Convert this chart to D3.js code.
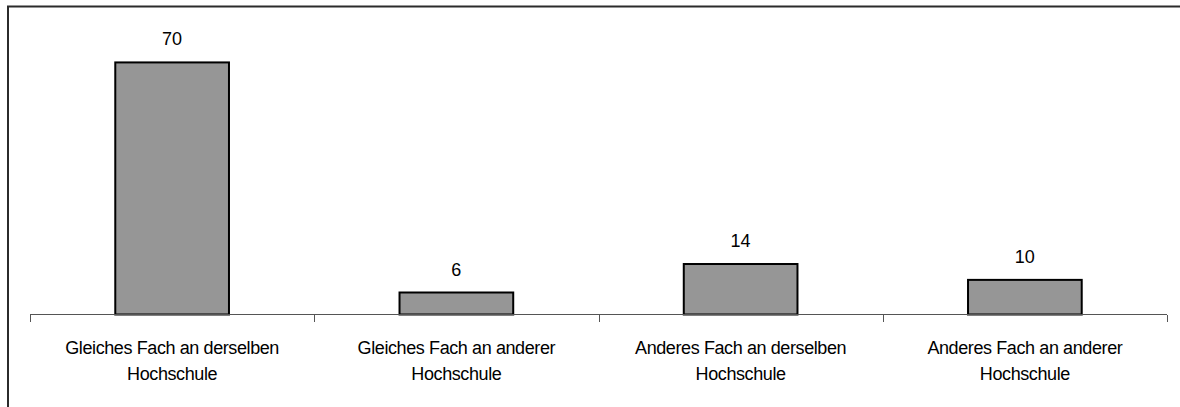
<!DOCTYPE html>
<html>
<head>
<meta charset="utf-8">
<style>
  body { margin: 0; background: #fff; }
  text { font-family: "Liberation Sans", Arial, sans-serif; fill: #000; }
  .frame { fill: none; stroke: #2b2b2b; stroke-width: 2; }
  .bar { fill: #969696; stroke: #000; stroke-width: 2; }
  .axis-line { stroke: #555; stroke-width: 1; shape-rendering: crispEdges; }
  .value { font-size: 18px; text-anchor: middle; }
  .cat { font-size: 18px; letter-spacing: -0.4px; text-anchor: middle; }
</style>
</head>
<body>
<svg width="1180" height="407"></svg>
<script src="https://cdnjs.cloudflare.com/ajax/libs/d3/7.8.5/d3.min.js"></script>
<script>
// categories, split into the two lines shown under the axis
var categories = ["Gleiches Fach an derselben Hochschule",
                  "Gleiches Fach an anderer Hochschule",
                  "Anderes Fach an derselben Hochschule",
                  "Anderes Fach an anderer Hochschule"];
var categoryLines = [["Gleiches Fach an derselben", "Hochschule"],
                     ["Gleiches Fach an anderer", "Hochschule"],
                     ["Anderes Fach an derselben", "Hochschule"],
                     ["Anderes Fach an anderer", "Hochschule"]];
// percentages (labels are rounded)
var values = [69.9, 6.1, 14.0, 9.6];
var yDomain = [0, 80];

var svg = d3.select("svg"),
    width = +svg.attr("width"),
    height = +svg.attr("height");

var plotLeft = 30, plotRight = 1167, baseline = 314.5, plotTop = 26;

// outer chart border (only top/left visible in the picture)
svg.append("rect")
    .attr("class", "frame")
    .attr("x", 8).attr("y", 6.5)
    .attr("width", 1200).attr("height", 500);

var x = d3.scaleBand()
    .domain(categories)
    .range([plotLeft, plotRight])
    .paddingInner(0.6)
    .paddingOuter(0.3);

var y = d3.scaleLinear()
    .domain(yDomain)
    .range([baseline, plotTop]);

var step = x.step();
var data = categories.map(function(c, i) {
  return {name: c, value: values[i], lines: categoryLines[i]};
});

// bars
svg.selectAll(".bar")
    .data(data)
  .enter().append("rect")
    .attr("class", "bar")
    .attr("x", function(d) { return x(d.name); })
    .attr("y", function(d) { return y(d.value); })
    .attr("width", x.bandwidth())
    .attr("height", function(d) { return y(0) - y(d.value); });

// category axis: line + ticks between categories
svg.append("line")
    .attr("class", "axis-line")
    .attr("x1", plotLeft).attr("x2", plotRight)
    .attr("y1", y(0)).attr("y2", y(0));

var boundaries = d3.range(categories.length + 1).map(function(i) { return plotLeft + i * step; });
svg.selectAll(".tick")
    .data(boundaries)
  .enter().append("line")
    .attr("class", "axis-line")
    .attr("x1", function(d) { return Math.round(d) + 0.5; })
    .attr("x2", function(d) { return Math.round(d) + 0.5; })
    .attr("y1", y(0)).attr("y2", y(0) + 7);

// value labels
var fmt = d3.format(".0f");
svg.selectAll(".value")
    .data(data)
  .enter().append("text")
    .attr("class", "value")
    .attr("x", function(d) { return x(d.name) + x.bandwidth() / 2; })
    .attr("y", function(d) { return y(d.value) - 17; })
    .text(function(d) { return fmt(d.value); });

// category labels
var cat = svg.selectAll(".cat")
    .data(data)
  .enter().append("text")
    .attr("class", "cat")
    .attr("x", function(d) { return x(d.name) + x.bandwidth() / 2; })
    .attr("y", y(0) + 39);

cat.selectAll("tspan")
    .data(function(d) { return d.lines; })
  .enter().append("tspan")
    .attr("x", function() { return d3.select(this.parentNode).attr("x"); })
    .attr("dy", function(d, i) { return i ? 26 : 0; })
    .text(function(d) { return d; });
</script>
</body>
</html>
